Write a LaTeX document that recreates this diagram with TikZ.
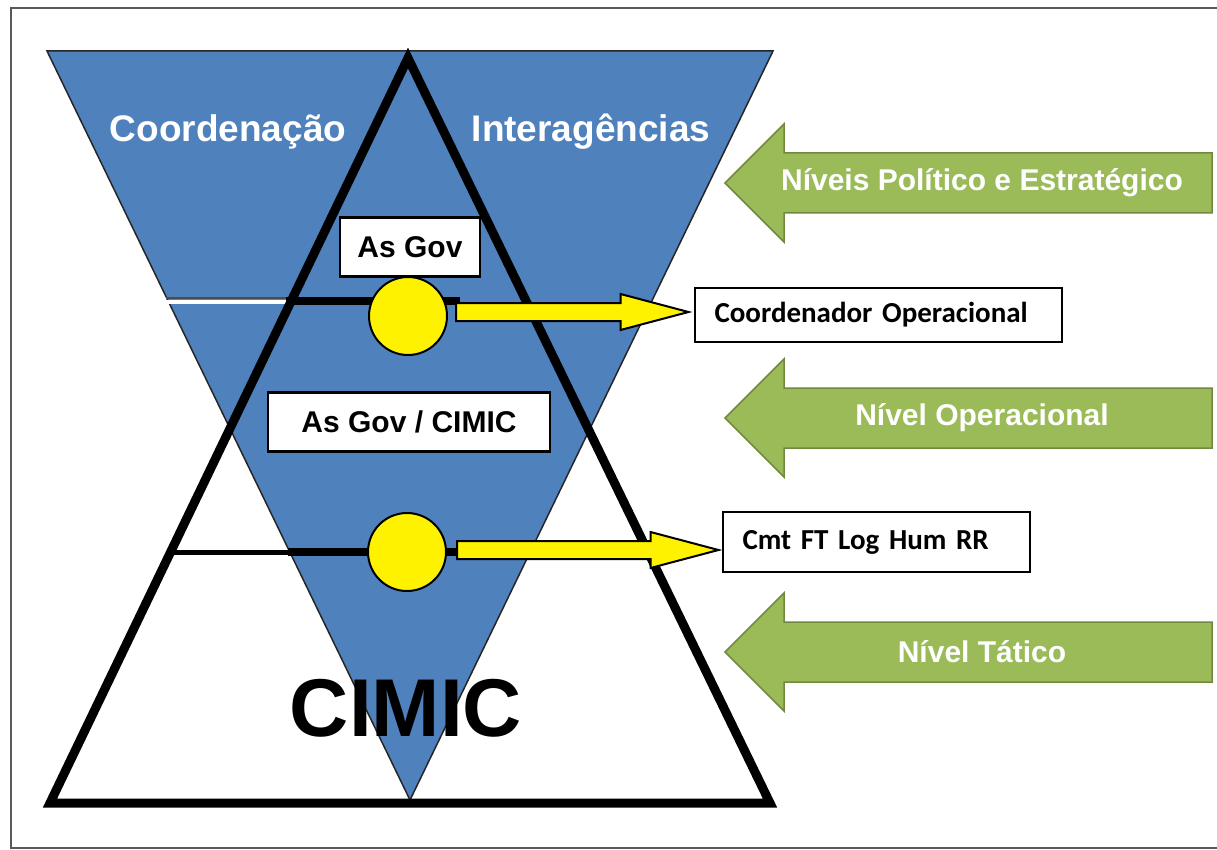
\documentclass[tikz,border=0pt]{standalone}
\usepackage{fontspec}
\setmainfont{Liberation Sans}
\newfontfamily\calibri{Carlito}
\usepackage{tikz}
\usetikzlibrary{calc}
\usetikzlibrary{positioning, arrows.meta}

\definecolor{blueface}{HTML}{4F81BD}
\definecolor{greenface}{HTML}{9BBB59}
\definecolor{greenedge}{HTML}{71893F}

\tikzset{
  govbox/.style={draw, line width=2.5, fill=white, inner sep=0, minimum height=59, font=\bfseries\fontsize{30}{36}\selectfont},
  rolebox/.style={draw, line width=2, fill=white, inner xsep=20, inner ysep=0, align=left, font=\calibri\bfseries\fontsize{29}{34}\selectfont},
  hub/.style={draw, circle, fill=yellow, line width=2, minimum size=78, inner sep=0},
  fatarrow/.style={draw, fill=yellow, line width=2, line join=miter},
  levelarrow/.style={draw=greenedge, fill=greenface, line width=1.5},
  leveltext/.style={text=white, font=\bfseries\fontsize{30}{36}\selectfont},
  bluetext/.style={text=white, font=\bfseries\fontsize{37}{44}\selectfont}
}

% yellow block arrow: #1 start, #2 tip
\newcommand{\fatarrow}[2]{%
  \draw [fatarrow] ($(#1)+(0,-9)$) -- ($(#2)+(-68,-9)$) -- ($(#2)+(-68,-18)$) -- (#2)
    -- ($(#2)+(-68,18)$) -- ($(#2)+(-68,9)$) -- ($(#1)+(0,9)$) -- cycle;}

\begin{document}
\begin{tikzpicture}[x=1pt, y=-1pt]
    \useasboundingbox (0,0) rectangle (1217,850);
    \draw [black!65, line width=2] (11,8) rectangle (1224,848);

    % inverted triangle
    \fill [blueface, draw=black!85, line width=1.5] (47,51) -- (773,51) -- (410,800) -- cycle;
    \draw [black!70, line width=1.2] (166,298) -- (292,298);
    \draw [white, line width=4] (167,302) -- (292,302);

    \draw [line width=8] (286,301) -- (460,301);
    \draw [line width=5] (168,552) -- (292,552);
    \draw [line width=8] (288,552) -- (460,552);

    % pyramid
    \draw [line width=9, line join=miter] (408,58) -- (770,803) -- (50,803) -- cycle;

    \node (coord) [bluetext] at (228,132) {Coordenação};
    \node (inter) [bluetext] at (591,132) {Interagências};

    \node (gov) [govbox, minimum width=140] at (410,247) {As Gov};
    \node (govcimic) [govbox, minimum width=282] at (409,422) {As Gov / CIMIC};
    \node (cimic) [font=\bfseries\fontsize{82}{90}\selectfont] at (406,708) {CIMIC};

    \node (c1) [hub] at (408,316) {};
    \node (c2) [hub] at (407,552) {};

    \node (opcoord) [rolebox, text width=327, minimum height=54] at (878,315) {Coordenador Operacional};
    \node (cmtft) [rolebox, text width=267, minimum height=60] at (876,542) {Cmt FT Log Hum RR};

    \coordinate (s1) at ($(c1.east)+(8,-4)$);
    \coordinate (t1) at ($(opcoord.west |- s1)+(-5,0)$);
    \fatarrow{s1}{t1}
    \coordinate (s2) at ($(c2.east)+(10,-2)$);
    \coordinate (t2) at ($(cmtft.west |- s2)+(-3,0)$);
    \fatarrow{s2}{t2}

    % level arrows
    \foreach \yc/\txt/\nm in {183/{Níveis Político e Estratégico}/lvlA, 418/{Nível Operacional}/lvlB, 652/{Nível Tático}/lvlC} {
        \draw [levelarrow] (725,\yc) -- (784,{\yc-59}) -- (784,{\yc-30}) -- (1212,{\yc-30})
            -- (1212,{\yc+30}) -- (784,{\yc+30}) -- (784,{\yc+59}) -- cycle;
        \node (\nm) [leveltext] at (982,\yc) {\txt};
    }
\end{tikzpicture}
\end{document}
